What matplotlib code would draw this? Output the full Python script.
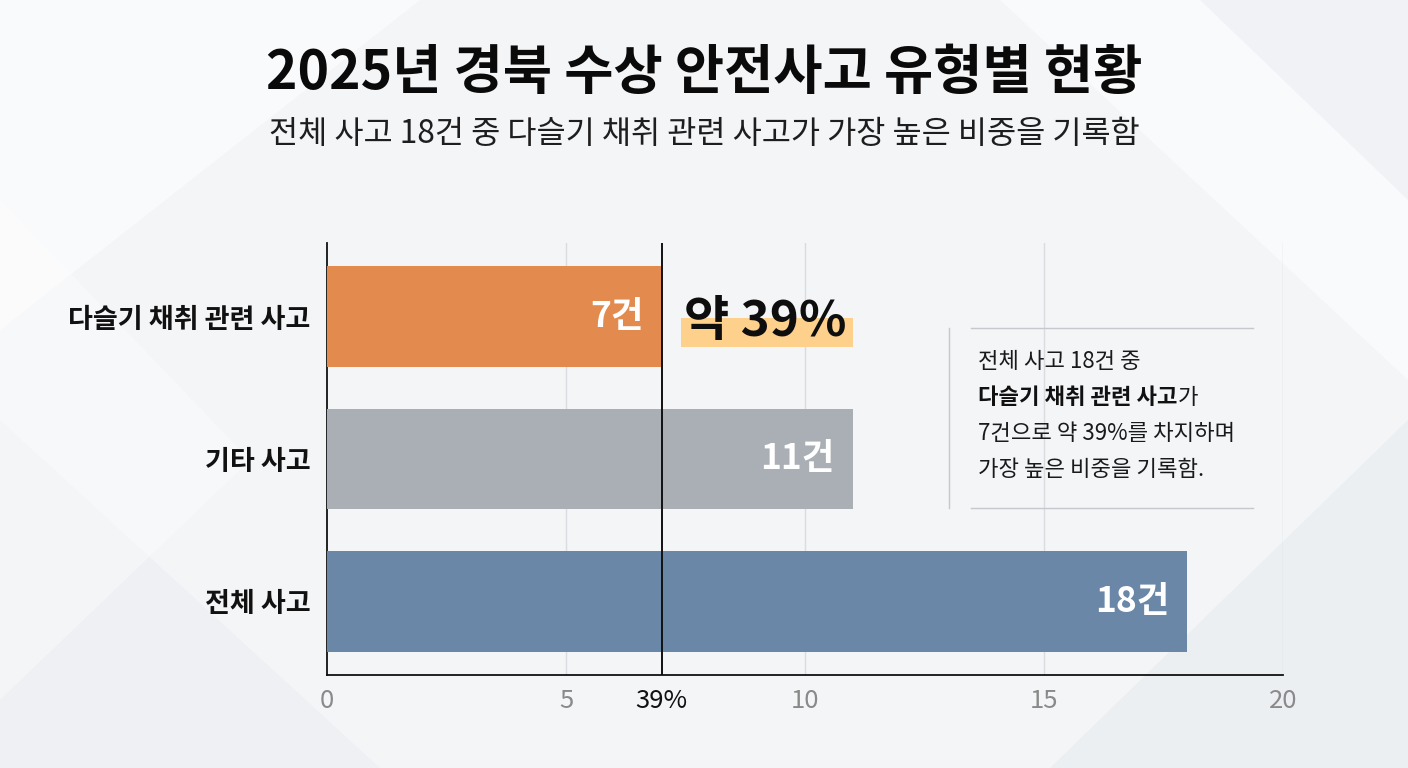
import matplotlib
matplotlib.use("Agg")
import matplotlib.pyplot as plt
from matplotlib.patches import Polygon, Rectangle
from matplotlib.lines import Line2D

plt.rcParams['font.family'] = ['Noto Sans CJK KR', 'DejaVu Sans']

# Data
categories = ["다슬기 채취 관련 사고", "기타 사고", "전체 사고"]
values = [7, 11, 18]
bar_labels = ["7건", "11건", "18건"]
bar_colors = ["#E38B4F", "#AAAFB5", "#6A87A8"]
share_label = "약 39%"
share_tick = "39%"
xticks = [0, 5, 10, 15, 20]

title = "2025년 경북 수상 안전사고 유형별 현황"
subtitle = "전체 사고 18건 중 다슬기 채취 관련 사고가 가장 높은 비중을 기록함"
note_lines = ["전체 사고 18건 중", "다슬기 채취 관련 사고가", "7건으로 약 39%를 차지하며", "가장 높은 비중을 기록함."]

W, H = 1408, 768
fig = plt.figure(figsize=(W / 100, H / 100), dpi=100)
fig.patch.set_facecolor("#F3F5F7")

# faint background geometry
bg = fig.add_axes([0, 0, 1, 1], zorder=-10)
bg.set_xlim(0, W); bg.set_ylim(H, 0); bg.axis("off")
for pts, c, a in [
    ([(0, 0), (420, 0), (0, 330)], "white", 0.55),
    ([(1408, 0), (1000, 0), (1408, 380)], "white", 0.5),
    ([(1408, 768), (1050, 768), (1408, 420)], "#E6EAEE", 0.5),
    ([(0, 768), (0, 420), (380, 768)], "#E8ECF0", 0.45),
    ([(1200, 0), (1408, 200), (1408, 0)], "#E4E8EC", 0.4),
    ([(0, 200), (250, 460), (0, 700)], "white", 0.35),
]:
    bg.add_patch(Polygon(pts, closed=True, facecolor=c, alpha=a, edgecolor="none"))

# Titles
fig.text(0.5, 1 - 73 / H, title, ha="center", va="center", fontsize=38.5, fontweight="black", color="#0A0A0A")
fig.text(0.5, 1 - 134 / H, subtitle, ha="center", va="center", fontsize=22.8, color="#1E1E1E")

ax = fig.add_axes([327 / W, 1 - 675 / H, (1283 - 327) / W, (675 - 243) / H])
ax.patch.set_alpha(0)
ypos = list(range(len(categories)))
ax.barh(ypos, values, height=0.71, color=bar_colors, zorder=3)
ax.set_xlim(0, 20)
ax.set_ylim(2.52, -0.52)

for x in xticks[1:]:
    ax.axvline(x, color="#D9DDE1", lw=1.0, zorder=1)
ax.axvline(values[0], color="#111111", lw=1.4, zorder=4)

ax.set_yticks(ypos)
ax.set_yticklabels(categories, fontsize=19.5, fontweight="bold", color="#111111")
ax.tick_params(axis="y", length=0, pad=12)
ax.set_xticks(xticks + [values[0]])
ax.set_xticklabels([str(t) for t in xticks] + [share_tick], fontsize=18.5)
ax.tick_params(axis="x", length=0, pad=9)
for lbl in ax.get_xticklabels():
    lbl.set_color("#8A8A8A")
ax.get_xticklabels()[-1].set_color("#111111")

for s in ["top", "right"]:
    ax.spines[s].set_visible(False)
ax.spines["left"].set_color("#111111")
ax.spines["bottom"].set_color("#111111")
ax.spines["left"].set_linewidth(1.3)
ax.spines["bottom"].set_linewidth(1.3)

for y, v, t in zip(ypos, values, bar_labels):
    ax.text(v - 0.38, y, t, ha="right", va="center", fontsize=25.5, fontweight="bold", color="white", zorder=5)

# share highlight
ax.add_patch(Rectangle((7.41, 0.01), 3.6, 0.2, facecolor="#FDD08C", edgecolor="none", zorder=3))
ax.text(9.16, 0.035, share_label, ha="center", va="center", fontsize=35.5, fontweight="black", color="#0E0E0E", zorder=5)

# annotation box
ov = fig.add_axes([0, 0, 1, 1], zorder=5)
ov.set_xlim(0, W); ov.set_ylim(H, 0); ov.axis("off")
ov.add_line(Line2D([949, 949], [328, 508], color="#C5C9CD", lw=1))
ov.add_line(Line2D([971, 1253], [328, 328], color="#C5C9CD", lw=1))
ov.add_line(Line2D([971, 1253], [508, 508], color="#C5C9CD", lw=1))
ys = [361, 398, 434, 470]
fs = 16
ov.text(978, ys[0], note_lines[0], ha="left", va="center", fontsize=fs, color="#1A1A1A")
bold_part = "다슬기 채취 관련 사고"
t_b = ov.text(978, ys[1], bold_part, ha="left", va="center", fontsize=fs, fontweight="bold", color="#111111")
fig.canvas.draw()
bb = t_b.get_window_extent()
x_end = bb.x1
ov.text(x_end, ys[1], note_lines[1][len(bold_part):], ha="left", va="center", fontsize=fs, color="#1A1A1A")
ov.text(978, ys[2], note_lines[2], ha="left", va="center", fontsize=fs, color="#1A1A1A")
ov.text(978, ys[3], note_lines[3], ha="left", va="center", fontsize=fs, color="#1A1A1A")

fig.savefig("out.png", dpi=100, facecolor=fig.get_facecolor())
